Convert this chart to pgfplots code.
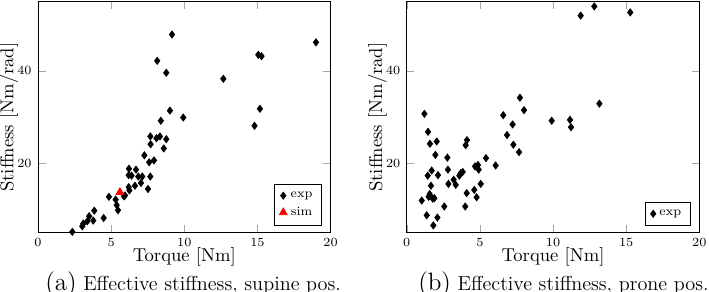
\documentclass[border=0pt]{standalone}
\usepackage{pgfplots}
\pgfplotsset{compat=1.18}
\begin{document}
\begin{tikzpicture}[x=1pt,y=1pt]
\pgfplotsset{
  myax/.style={
    scale only axis, width=163.5pt, height=128.8pt,
    xmin=0, xmax=20, ymin=5, ymax=55,
    xtick={0,5,10,15,20}, ytick={20,40},
    tick label style={font=\fontsize{7.5}{9}\selectfont},
    major tick style={gray!70},
    xlabel={Torque [Nm]}, ylabel={Stiffness [Nm/rad]},
    xlabel style={font=\fontsize{10.4}{12}\selectfont, at={(axis description cs:0.5,0)}, anchor=base, yshift=-16.4pt},
    ylabel style={font=\fontsize{10.4}{12}\selectfont, at={(axis description cs:-0.1,0.5)}, anchor=center},
    legend pos=south east,
    legend style={font=\fontsize{7}{8.5}\selectfont, draw=black},
  }
}
\begin{axis}[myax, at={(21.2pt,32.8pt)}, anchor=south west]
\addplot[only marks, mark=diamond*, mark size=2pt, black] coordinates {
(2.35,5.1) (3.03,6.3) (3.10,6.9) (3.37,7.4) (3.5,8.5) (3.78,7.55) (3.85,9.7)
(4.49,8.1) (4.85,12.7) (5.31,12.1) (5.38,10.9) (5.47,9.8) (5.88,12.8) (5.95,13.0)
(6.2,14.8) (6.25,14.1) (6.2,17.4) (6.22,18.8) (6.4,17.3) (6.63,15.1) (6.7,18.6)
(6.86,17.1) (7.04,15.7) (7.13,17.1) (7.27,21.7) (7.52,14.4) (7.6,20.2) (7.68,17.1)
(7.68,25.8) (7.7,24.1) (7.93,20.6) (8.1,25.4) (8.34,25.8) (8.15,42.2) (8.4,29.2)
(8.6,23.2) (8.77,25.2) (8.77,39.6) (9.02,31.4) (9.16,47.9) (9.93,29.9) (12.67,38.3)
(14.8,28.1) (15.06,43.5) (15.28,43.2) (15.17,31.8) (19.0,46.2)
};
\addlegendentry{exp}
\addplot[only marks, mark=triangle*, mark size=2.5pt, red] coordinates {(5.6,13.7)};
\addlegendentry{sim}
\end{axis}
\begin{axis}[myax, at={(227.2pt,32.8pt)}, anchor=south west]
\addplot[only marks, mark=diamond*, mark size=2pt, black] coordinates {
(1.03,11.9) (1.21,30.7) (1.37,8.7) (1.44,17.3) (1.46,26.8) (1.5,12.7) (1.57,13.3)
(1.59,24.2) (1.66,15.1) (1.71,18.4) (1.78,12.3) (1.82,6.5) (1.89,12.4) (1.96,21.8)
(2.05,24.7) (2.1,8.2) (2.14,17.4) (2.57,10.6) (2.78,21.2) (2.82,18.6) (2.85,15.5)
(3.21,16.4) (3.35,15.3) (3.6,17.3) (3.69,17.8) (3.83,18.1) (4.0,10.6) (4.03,23.9)
(4.12,25.0) (4.1,13.5) (4.62,14.2) (4.67,19.3) (4.78,12.6) (4.87,19.6) (4.92,18.6)
(5.06,15.5) (5.42,21.1) (6.08,19.5) (6.6,30.4) (6.86,26.1) (7.24,28.4) (7.29,24.0)
(7.68,22.4) (7.74,34.2) (8.02,31.5) (9.91,29.2) (11.16,29.4) (11.23,27.8) (11.89,52.0)
(12.82,54.0) (13.17,32.9) (15.28,52.7)
};
\addlegendentry{exp}
\end{axis}
\node[anchor=base west, inner sep=0pt, font=\fontsize{11.3}{13}\selectfont] at (25.1pt,0.5pt) {{\fontsize{14}{16}\selectfont (a)} Effective stiffness, supine pos.};
\node[anchor=base west, inner sep=0pt, font=\fontsize{11.3}{13}\selectfont] at (233.5pt,0.5pt) {{\fontsize{14}{16}\selectfont (b)} Effective stiffness, prone pos.};
\pgfresetboundingbox
\useasboundingbox (0pt,0pt) rectangle (396.1pt,162.6pt);
\end{tikzpicture}
\end{document}
